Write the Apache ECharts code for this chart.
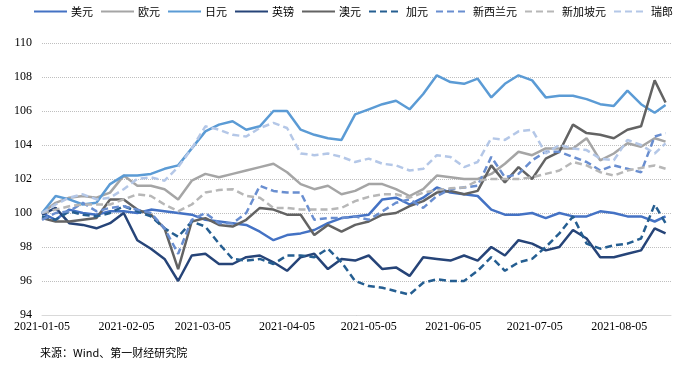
<!DOCTYPE html>
<html><head><meta charset="utf-8">
<script src="https://cdn.jsdelivr.net/npm/echarts@6/dist/echarts.min.js"></script>
<style>html,body{margin:0;padding:0;background:#fff}#c{width:674px;height:368px}</style>
</head><body><div id="c"></div>
<script>
// sample dates (every 5 calendar days)
const dates = ['2021-01-05','2021-01-10','2021-01-15','2021-01-20','2021-01-25','2021-01-30','2021-02-04','2021-02-09','2021-02-14','2021-02-19','2021-02-24','2021-03-01','2021-03-06','2021-03-11','2021-03-16','2021-03-21','2021-03-26','2021-03-31','2021-04-05','2021-04-10','2021-04-15','2021-04-20','2021-04-25','2021-04-30','2021-05-05','2021-05-10','2021-05-15','2021-05-20','2021-05-25','2021-05-30','2021-06-04','2021-06-09','2021-06-14','2021-06-19','2021-06-24','2021-06-29','2021-07-04','2021-07-09','2021-07-14','2021-07-19','2021-07-24','2021-07-29','2021-08-03','2021-08-08','2021-08-13','2021-08-18','2021-08-22'];
const axisStart = '2021-01-05';
const axisEnd = '2021-08-24';
const yTicks = [94, 96, 98, 100, 102, 104, 106, 108, 110];

const usd = [100.0,99.6,100.2,100.0,99.9,100.1,100.1,100.0,100.2,100.1,100.0,99.9,99.6,99.5,99.4,99.3,98.9,98.4,98.7,98.8,99.0,99.4,99.7,99.8,99.9,100.8,100.9,100.5,100.9,101.5,101.2,101.1,101.0,100.2,99.9,99.9,100.0,99.7,100.0,99.8,99.8,100.1,100.0,99.8,99.8,99.5,99.8];
const eur = [100.0,100.6,100.9,101.0,100.9,101.2,102.2,101.6,101.6,101.4,100.8,101.9,102.3,102.1,102.3,102.5,102.7,102.9,102.4,101.7,101.4,101.6,101.1,101.3,101.7,101.7,101.4,101.0,101.4,102.2,102.1,102.0,102.0,102.3,102.9,103.6,103.4,103.8,103.8,103.8,104.4,103.1,103.5,104.1,103.9,104.4,104.2];
const jpy = [100.0,101.0,100.8,100.5,100.6,101.7,102.2,102.2,102.3,102.6,102.8,103.8,104.8,105.2,105.4,104.9,105.1,106.0,106.0,104.9,104.6,104.4,104.3,105.8,106.1,106.4,106.6,106.1,107.0,108.1,107.7,107.6,107.9,106.8,107.6,108.1,107.8,106.8,106.9,106.9,106.7,106.4,106.3,107.2,106.4,105.9,106.35];
const gbp = [99.9,100.3,99.4,99.3,99.1,99.4,100.0,98.4,97.9,97.3,96.0,97.5,97.6,97.0,97.0,97.4,97.5,97.1,96.6,97.4,97.6,96.7,97.3,97.2,97.5,96.7,96.8,96.3,97.4,97.3,97.2,97.5,97.2,98.0,97.5,98.4,98.2,97.8,98.0,99.0,98.5,97.4,97.4,97.6,97.8,99.1,98.8];
const aud = [99.7,99.5,99.5,99.6,99.7,100.8,100.8,100.2,99.9,99.1,96.7,99.5,99.7,99.3,99.2,99.6,100.3,100.2,99.9,99.9,98.7,99.3,98.9,99.3,99.5,99.9,100.0,100.4,100.7,101.2,101.3,101.1,101.3,102.8,101.8,102.7,102.0,103.2,103.6,105.2,104.7,104.6,104.4,104.9,105.1,107.8,106.5];
const cad = [99.8,99.6,100.1,99.9,99.8,100.0,100.4,100.1,99.8,99.1,98.6,99.5,99.2,98.2,97.3,97.2,97.3,97.0,97.5,97.5,97.4,97.9,97.1,96.0,95.7,95.6,95.4,95.2,95.9,96.1,96.0,96.0,96.6,97.4,96.6,97.1,97.3,98.0,98.8,99.8,98.2,97.9,98.1,98.2,98.5,100.5,99.4];
const nzd = [99.6,100.0,100.1,100.6,100.1,100.3,100.4,100.2,100.0,99.1,97.6,99.6,100.0,99.4,99.4,100.0,101.6,101.3,101.2,101.2,99.6,99.7,99.7,99.8,99.6,100.1,100.6,100.8,100.3,101.0,101.4,101.5,101.6,103.3,102.1,102.3,103.1,103.6,103.6,103.3,103.0,102.5,102.8,102.6,102.4,104.5,104.7];
const sgd = [100.0,100.2,100.4,100.5,100.5,100.5,100.8,101.1,101.0,100.5,100.1,100.5,101.2,101.35,101.4,101.0,100.9,100.3,100.3,100.2,100.2,100.2,100.3,100.7,100.95,101.1,101.1,100.9,101.2,101.35,101.45,101.5,101.9,102.0,102.0,102.0,102.1,102.3,102.5,103.0,102.8,102.4,102.2,102.5,102.65,102.8,102.6];
const chf = [100.0,100.5,100.9,101.1,100.8,100.9,101.4,102.0,102.1,101.9,102.7,103.8,105.1,104.9,104.6,104.5,105.0,105.3,105.0,103.5,103.4,103.5,103.3,103.0,103.2,102.9,102.8,102.5,102.6,103.4,103.3,102.7,103.0,104.4,104.3,104.8,104.9,103.5,104.0,103.8,103.7,103.2,103.1,104.3,104.0,103.5,104.1];

const names = ['美元','欧元','日元','英镑','澳元','加元','新西兰元','新加坡元','瑞郎'];
const values = [usd, eur, jpy, gbp, aud, cad, nzd, sgd, chf];
const colors = ['#4472C4','#A5A5A5','#5B9BD5','#264478','#636363','#255E91','#698ED0','#B7B7B7','#B4C7E7'];
const dashed = [false,false,false,false,false,true,true,true,true];

// calendar-day categories for the x axis
const days = [];
for (let t = Date.parse(axisStart + 'T00:00:00Z'); t <= Date.parse(axisEnd + 'T00:00:00Z'); t += 86400000) {
  days.push(new Date(t).toISOString().slice(0, 10));
}

const chart = echarts.init(document.getElementById('c'));
chart.setOption({
  animation: false,
  textStyle: { fontFamily: 'Liberation Serif' },
  legend: {
    top: 6, left: 33, right: 0, padding: 0,
    itemWidth: 33, itemHeight: 10, itemGap: 7,
    itemStyle: { opacity: 0 },
    textStyle: { fontFamily: 'Noto Sans CJK SC', fontSize: 11, color: '#000', padding: [0, 0, 0, -1] },
    data: names
  },
  grid: { left: 42, right: 3, top: 43, bottom: 53 },
  xAxis: {
    type: 'category', data: days, boundaryGap: false,
    axisLine: { lineStyle: { color: '#d9d9d9', width: 1 } },
    axisTick: { show: false },
    axisLabel: {
      interval: (i, v) => v.slice(8) === '05',
      color: '#000', fontSize: 12, fontFamily: 'Liberation Serif', margin: 6
    },
    splitLine: { show: false }
  },
  yAxis: {
    type: 'value', min: yTicks[0], max: yTicks[yTicks.length - 1], interval: 2,
    axisLine: { show: false }, axisTick: { show: false },
    axisLabel: { color: '#000', fontSize: 12, fontFamily: 'Liberation Serif', margin: 10 },
    splitLine: { lineStyle: { color: '#bfbfbf', type: [1, 1], width: 1 } }
  },
  series: names.map((n, k) => ({
    name: n, type: 'line', symbol: 'none',
    data: dates.map((d, i) => [d, values[k][i]]),
    itemStyle: { color: colors[k] },
    lineStyle: { color: colors[k], width: 2.5, type: dashed[k] ? [7, 4] : 'solid' }
  })),
  graphic: [{
    type: 'text', left: 40, top: 347,
    style: { text: '来源：Wind、第一财经研究院', font: '11px "Noto Sans CJK SC"', fill: '#000' }
  }]
});
</script></body></html>
